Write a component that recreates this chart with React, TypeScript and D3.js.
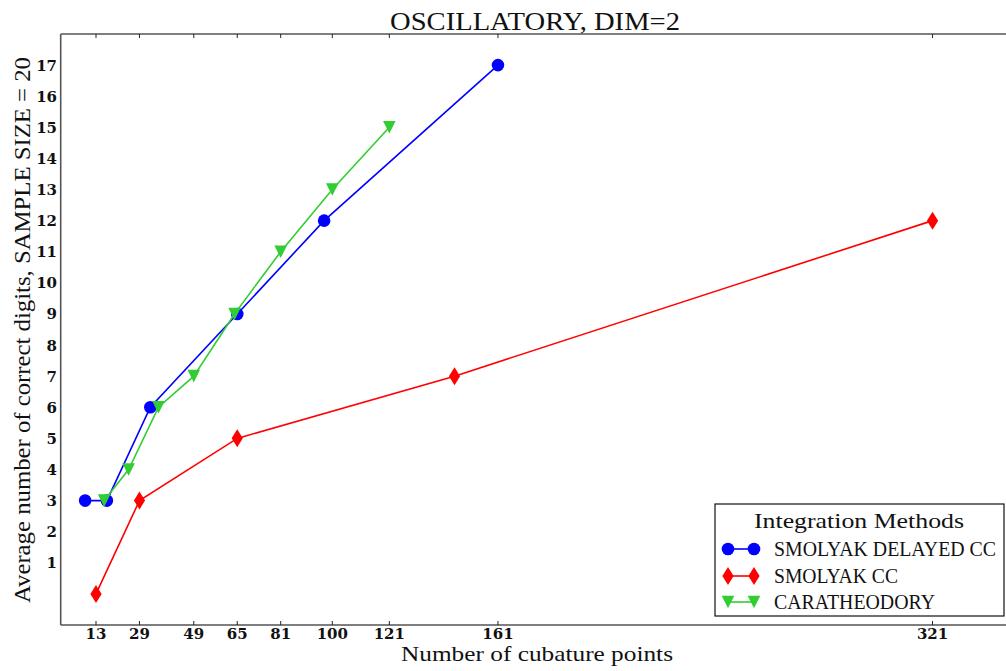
import React from "react";
import * as d3 from "d3";

const W = 1006;
const H = 671;

const title = "OSCILLATORY, DIM=2";
const xLabel = "Number of cubature points";
const yLabel = "Average number of correct digits, SAMPLE SIZE = 20";
const legendTitle = "Integration Methods";

const xTicks = [13, 29, 49, 65, 81, 100, 121, 161, 321];
const yTicks = [1, 2, 3, 4, 5, 6, 7, 8, 9, 10, 11, 12, 13, 14, 15, 16, 17];

const delayedX = [9, 17, 33, 65, 97, 161];
const delayedY = [3, 3, 6, 9, 12, 17];
const ccX = [13, 29, 65, 145, 321];
const ccY = [0, 3, 5, 7, 12];
const caraX = [16, 25, 36, 49, 64, 81, 100, 121];
const caraY = [3, 4, 6, 7, 9, 11, 13, 15];

const seriesNames = ["SMOLYAK DELAYED CC", "SMOLYAK CC", "CARATHEODORY"];
const seriesColors = ["#0000ff", "#ff0000", "#32cd32"];
const seriesMarkers = ["circle", "diamond", "triangle"];
const legendTextLen = [222, 124, 161];

const SERIF = "'Liberation Serif', serif";
const BOLD = "'DejaVu Serif', serif";

function Marker({ kind, x, y, color }: { kind: string; x: number; y: number; color: string }) {
  if (kind === "circle") return <circle cx={x} cy={y} r={6.3} fill={color} />;
  if (kind === "diamond") {
    const hw = 5.6, hh = 9;
    return <path d={`M${x},${y - hh}L${x + hw},${y}L${x},${y + hh}L${x - hw},${y}Z`} fill={color} />;
  }
  const h = 6.3;
  return <path d={`M${x - h},${y - h}L${x + h},${y - h}L${x},${y + h}Z`} fill={color} />;
}

export default function App() {
  const x = d3.scaleLinear().domain([0, 350]).range([60.7, 1011.3]);
  const y = d3.scaleLinear().domain([-1, 18]).range([625, 34]);
  const left = 60.7, top = 34, bottom = 625;

  const series = [
    { xs: delayedX, ys: delayedY },
    { xs: ccX, ys: ccY },
    { xs: caraX, ys: caraY },
  ];
  const line = d3
    .line<[number, number]>()
    .x((d) => x(d[0]))
    .y((d) => y(d[1]));

  const lx = 715, ly = 504, lw = 289, lh = 112;
  const entryY = [549, 576, 602];

  return (
    <div style={{ position: "fixed", left: 0, top: 0 }}>
      <svg width={W} height={H} style={{ display: "block", background: "#fff" }}>
        <rect x={0} y={0} width={W} height={H} fill="#fff" />
        {/* spines */}
        <line x1={left} x2={W} y1={top} y2={top} stroke="#555" strokeWidth={1.6} />
        <line x1={left} x2={W} y1={bottom} y2={bottom} stroke="#555" strokeWidth={1.6} />
        <line x1={left} x2={left} y1={top} y2={bottom} stroke="#555" strokeWidth={1.6} />
        {/* x ticks */}
        {xTicks.map((t) => (
          <g key={t}>
            <line x1={x(t)} x2={x(t)} y1={bottom} y2={bottom - 4} stroke="#222" strokeWidth={1} />
            <line x1={x(t)} x2={x(t)} y1={top} y2={top + 4} stroke="#222" strokeWidth={1} />
            <text x={x(t)} y={638.5} textAnchor="middle" fontSize={15} fontWeight="bold" fill="#111" style={{ fontFamily: BOLD }}>
              {t}
            </text>
          </g>
        ))}
        {/* y ticks */}
        {yTicks.map((t) => (
          <text key={t} x={57} y={y(t) + 5.5} textAnchor="end" fontSize={15} fontWeight="bold" fill="#111" style={{ fontFamily: BOLD }}>
            {t}
          </text>
        ))}
        {/* series */}
        {series.map((s, i) => {
          const pts = s.xs.map((v, j) => [v, s.ys[j]] as [number, number]);
          return (
            <g key={i}>
              <path d={line(pts) || ""} fill="none" stroke={seriesColors[i]} strokeWidth={1.6} />
              {pts.map((p, j) => (
                <Marker key={j} kind={seriesMarkers[i]} x={x(p[0])} y={y(p[1])} color={seriesColors[i]} />
              ))}
            </g>
          );
        })}
        {/* title and labels */}
        <text x={535} y={30} textAnchor="middle" fontSize={25} fill="#111" textLength={290} lengthAdjust="spacingAndGlyphs" style={{ fontFamily: SERIF }}>
          {title}
        </text>
        <text x={537} y={661} textAnchor="middle" fontSize={21.5} fill="#111" textLength={272} lengthAdjust="spacingAndGlyphs" style={{ fontFamily: SERIF }}>
          {xLabel}
        </text>
        <text
          transform={`translate(29.5,330) rotate(-90)`}
          textAnchor="middle"
          fontSize={23}
          fill="#111"
          textLength={546}
          lengthAdjust="spacingAndGlyphs"
          style={{ fontFamily: SERIF }}
        >
          {yLabel}
        </text>
        {/* legend */}
        <rect x={lx} y={ly} width={lw} height={lh} fill="#fff" stroke="#111" strokeWidth={1.2} />
        <text x={859} y={527.5} textAnchor="middle" fontSize={22} fill="#111" textLength={210} lengthAdjust="spacingAndGlyphs" style={{ fontFamily: SERIF }}>
          {legendTitle}
        </text>
        {seriesNames.map((n, i) => (
          <g key={n}>
            <line x1={728} x2={754} y1={entryY[i]} y2={entryY[i]} stroke={seriesColors[i]} strokeWidth={1.6} />
            <Marker kind={seriesMarkers[i]} x={728} y={entryY[i]} color={seriesColors[i]} />
            <Marker kind={seriesMarkers[i]} x={754} y={entryY[i]} color={seriesColors[i]} />
            <text x={774} y={entryY[i] + 6.5} fontSize={20} fill="#111" textLength={legendTextLen[i]} lengthAdjust="spacingAndGlyphs" style={{ fontFamily: SERIF }}>
              {n}
            </text>
          </g>
        ))}
      </svg>
    </div>
  );
}
